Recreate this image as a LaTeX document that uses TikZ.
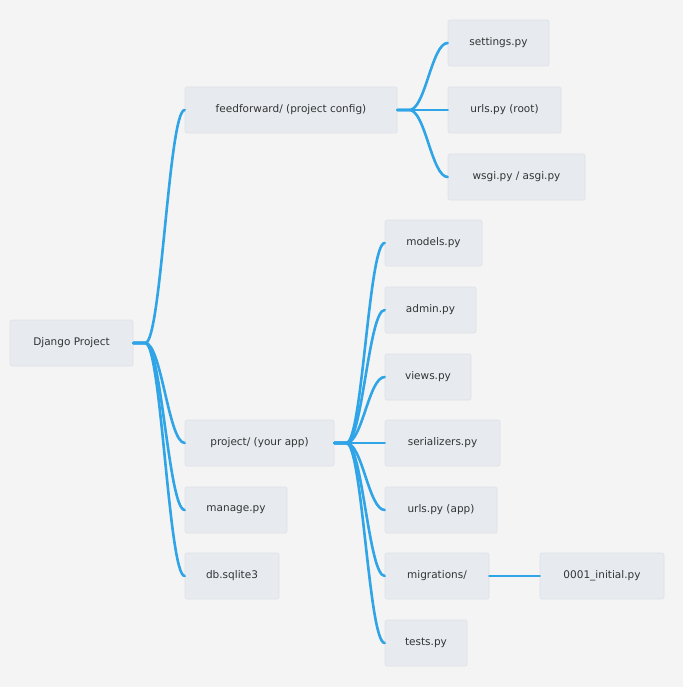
\documentclass[tikz,border=0pt]{standalone}
\usepackage{fontspec}
\setmainfont{DejaVu Sans}
\definecolor{bg}{HTML}{F4F4F4}
\definecolor{boxc}{HTML}{E7EBEF}
\definecolor{boxline}{HTML}{DCE1E6}
\definecolor{txt}{HTML}{333333}
\definecolor{edge}{HTML}{2FA4E7}
\tikzset{
  box/.style={fill=boxc,draw=boxline,line width=0.6pt,rounded corners=2pt,minimum height=46pt,inner xsep=0pt,text=txt,font=\fontsize{10.5}{12}\selectfont,anchor=center},
  conn/.style={draw=edge,line width=2.6pt,line cap=round}
}
\begin{document}
\begin{tikzpicture}[x=1pt,y=-1pt]
\fill[bg] (0,0) rectangle (683,687);
\useasboundingbox (0,0) rectangle (683,687);
\node[box,minimum width=123pt] (root) at (71.5,343) {Django Project};
\node[box,minimum width=212pt] (ff) at (291,110) {feedforward/ (project config)};
\node[box,minimum width=101pt] (set) at (498.5,43) {settings.py};
\node[box,minimum width=113pt] (urlr) at (504.5,110) {urls.py (root)};
\node[box,minimum width=137pt] (wsgi) at (516.5,177) {wsgi.py / asgi.py};
\node[box,minimum width=149pt] (proj) at (259.5,443) {project/ (your app)};
\node[box,minimum width=102pt] (man) at (236,510) {manage.py};
\node[box,minimum width=94pt] (db) at (232,576) {db.sqlite3};
\node[box,minimum width=97pt] (mod) at (433.5,243) {models.py};
\node[box,minimum width=91pt] (adm) at (430.5,310) {admin.py};
\node[box,minimum width=86pt] (vie) at (428,377) {views.py};
\node[box,minimum width=115pt] (ser) at (442.5,443) {serializers.py};
\node[box,minimum width=112pt] (urla) at (441,510) {urls.py (app)};
\node[box,minimum width=104pt] (mig) at (437,576) {migrations/};
\node[box,minimum width=124pt] (ini) at (602,576) {0001\_initial.py};
\node[box,minimum width=82pt] (tes) at (426,643) {tests.py};
\foreach \p/\c in {root/ff,root/proj,root/man,root/db,ff/set,ff/urlr,ff/wsgi,proj/mod,proj/adm,proj/vie,proj/ser,proj/urla,proj/mig,proj/tes,mig/ini}{
  \draw[conn] (\p.east) -- ++(12,0) .. controls +(16,0) and +(-16,0) .. (\c.west);
}
\end{tikzpicture}
\end{document}
